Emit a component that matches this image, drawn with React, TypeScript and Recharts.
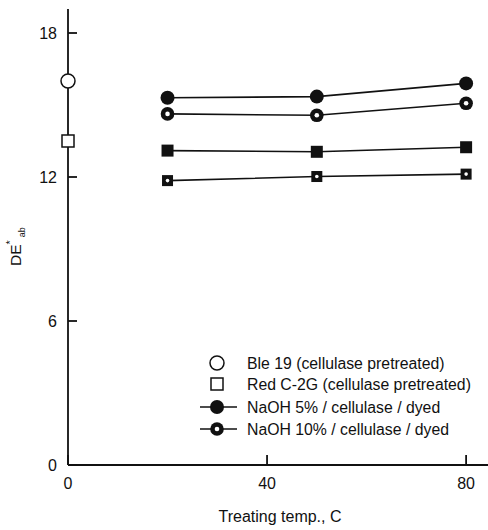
import { ScatterChart, Scatter, XAxis, YAxis, Legend } from 'recharts';

// Treating temperatures (C) for the treated samples
const temps = [20, 50, 80];
// DE*ab values
const naoh5Circle = [15.3, 15.35, 15.9];
const naoh10Circle = [14.63, 14.57, 15.07];
const naoh5Square = [13.1, 13.05, 13.24];
const naoh10Square = [11.85, 12.02, 12.12];
const ble19Pretreated = [16.0];
const redPretreated = [13.5];

const xTicks = [0, 40, 80];
const yTicks = [0, 6, 12, 18];

const legendLabels = [
  'Ble 19 (cellulase pretreated)',
  'Red C-2G (cellulase pretreated)',
  'NaOH 5% / cellulase / dyed',
  'NaOH 10% / cellulase / dyed',
];

const toPoints = (xs: number[], ys: number[]) => xs.map((x, i) => ({ x, y: ys[i] }));

const INK = '#111';
const FONT = '"Liberation Sans", Arial, sans-serif';

const OpenCircle = (p: any) => <circle cx={p.cx} cy={p.cy} r={7} fill="#fff" stroke={INK} strokeWidth={1.5} />;
const OpenSquare = (p: any) => (
  <rect x={p.cx - 6} y={p.cy - 6} width={12} height={12} fill="#fff" stroke={INK} strokeWidth={1.5} />
);
const FilledCircle = (p: any) => <circle cx={p.cx} cy={p.cy} r={7} fill={INK} />;
const DotCircle = (p: any) => (
  <g>
    <circle cx={p.cx} cy={p.cy} r={6.8} fill={INK} />
    <circle cx={p.cx} cy={p.cy} r={2.3} fill="#fff" />
  </g>
);
const FilledSquare = (p: any) => <rect x={p.cx - 6} y={p.cy - 6} width={12} height={12} fill={INK} />;
const DotSquare = (p: any) => (
  <g>
    <rect x={p.cx - 5.5} y={p.cy - 5.5} width={11} height={11} fill={INK} />
    <circle cx={p.cx} cy={p.cy} r={1.8} fill="#fff" />
  </g>
);

// inward tick marks, placed on the axes by the chart's own scales
const YTickMark = (p: any) => (
  <line x1={p.cx} y1={p.cy} x2={p.cx + 9} y2={p.cy} stroke={INK} strokeWidth={1.8} />
);
const XTickMark = (p: any) => (
  <line x1={p.cx} y1={p.cy} x2={p.cx} y2={p.cy - 10} stroke={INK} strokeWidth={1.8} />
);

const tickFont = { fontSize: 16, fontFamily: FONT, fill: INK };

const YLabel = () => (
  <text transform="translate(21,266) rotate(-90)" fontSize={15.5} fontFamily={FONT} fill={INK}>
    DE
    <tspan dy={-7} fontSize={11}>*</tspan>
    <tspan dy={11} dx={3} fontSize={9}>ab</tspan>
  </text>
);

const XLabel = () => (
  <text x={280} y={522} textAnchor="middle" fontSize={16} fontFamily={FONT} fill={INK}>
    Treating temp., C
  </text>
);

const legendMarkers = [
  (cx: number, cy: number) => <OpenCircle cx={cx} cy={cy} />,
  (cx: number, cy: number) => <OpenSquare cx={cx} cy={cy} />,
  (cx: number, cy: number) => (
    <g>
      <line x1={cx - 17} y1={cy} x2={cx + 20} y2={cy} stroke={INK} strokeWidth={1.6} />
      <FilledCircle cx={cx} cy={cy} />
    </g>
  ),
  (cx: number, cy: number) => (
    <g>
      <line x1={cx - 17} y1={cy} x2={cx + 20} y2={cy} stroke={INK} strokeWidth={1.6} />
      <DotCircle cx={cx} cy={cy} />
    </g>
  ),
];
const legendRows = [13, 34, 57, 79];

const LegendBox = () => (
  <svg width={293} height={92} style={{ display: 'block' }}>
    {legendLabels.map((label, i) => (
      <g key={label}>
        {legendMarkers[i](22, legendRows[i])}
        <text x={52} y={legendRows[i]} dy="0.36em" fontSize={15.8} fontFamily={FONT} fill={INK}>
          {label}
        </text>
      </g>
    ))}
  </svg>
);

export default function App() {
  return (
    <div style={{ position: 'absolute', left: 0, top: 0 }}>
      <ScatterChart width={488} height={530} margin={{ top: 9, right: 0, bottom: 0, left: 0 }}>
        <XAxis
          type="number"
          dataKey="x"
          domain={[0, 84.4]}
          ticks={xTicks}
          height={65}
          tickSize={0}
          tickMargin={13}
          tick={tickFont}
          tickLine={false}
          axisLine={{ stroke: INK, strokeWidth: 1.8 }}
          label={<XLabel />}
        />
        {/* top frame line */}
        <XAxis
          xAxisId="top"
          orientation="top"
          type="number"
          domain={[0, 84.4]}
          height={0}
          tick={false}
          tickLine={false}
          axisLine={{ stroke: INK, strokeWidth: 2 }}
        />
        <YAxis
          type="number"
          dataKey="y"
          domain={[0, 19]}
          ticks={yTicks}
          width={68}
          tickSize={0}
          tickMargin={11}
          tick={tickFont}
          tickLine={false}
          axisLine={{ stroke: INK, strokeWidth: 1.8 }}
          label={<YLabel />}
        />
        <Scatter data={yTicks.map((t) => ({ x: 0, y: t }))} shape={YTickMark} isAnimationActive={false} />
        <Scatter data={xTicks.map((t) => ({ x: t, y: 0 }))} shape={XTickMark} isAnimationActive={false} />
        <Scatter data={toPoints(temps, naoh5Circle)} line={{ stroke: INK, strokeWidth: 1.6 }} shape={FilledCircle} isAnimationActive={false} />
        <Scatter data={toPoints(temps, naoh10Circle)} line={{ stroke: INK, strokeWidth: 1.6 }} shape={DotCircle} isAnimationActive={false} />
        <Scatter data={toPoints(temps, naoh5Square)} line={{ stroke: INK, strokeWidth: 1.6 }} shape={FilledSquare} isAnimationActive={false} />
        <Scatter data={toPoints(temps, naoh10Square)} line={{ stroke: INK, strokeWidth: 1.6 }} shape={DotSquare} isAnimationActive={false} />
        <Scatter data={toPoints([0], ble19Pretreated)} shape={OpenCircle} isAnimationActive={false} />
        <Scatter data={toPoints([0], redPretreated)} shape={OpenSquare} isAnimationActive={false} />
        <Legend
          layout="vertical"
          align="center"
          verticalAlign="middle"
          content={<LegendBox />}
          wrapperStyle={{ left: 195, top: 350, width: 293, height: 92 }}
        />
      </ScatterChart>
    </div>
  );
}
